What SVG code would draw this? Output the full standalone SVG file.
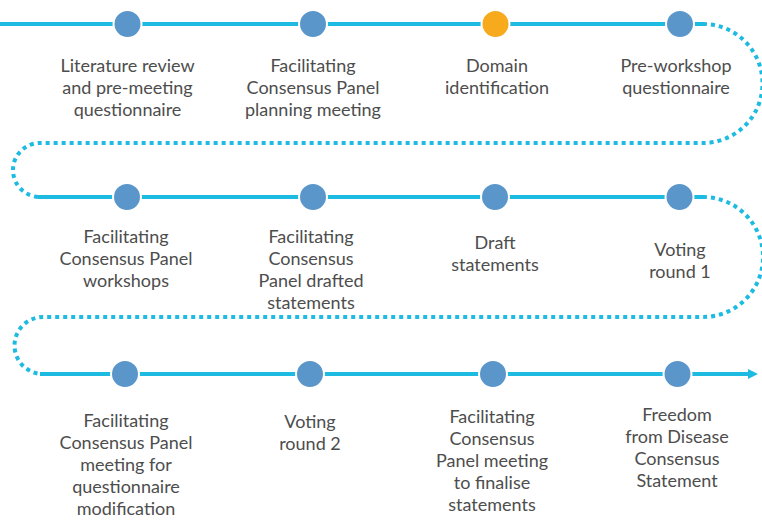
<svg xmlns="http://www.w3.org/2000/svg" width="762" height="520" viewBox="0 0 762 520">
<style>
.ln{fill:none;stroke:#1DBBE1;stroke-width:4}
.dt{fill:none;stroke:#1DBBE1;stroke-width:4;stroke-dasharray:4 4}
.nd{fill:#5B96CB;stroke:#fff;stroke-width:2}
.hl{fill:#F6AA1C;stroke:#fff;stroke-width:2}
text{font-family:Lato,"Open Sans","Liberation Sans",sans-serif;font-size:18px;fill:#4D4D4D;text-anchor:middle}
</style>
<defs>
<marker id="arr" markerWidth="10" markerHeight="10" refX="2" refY="5" orient="auto" markerUnits="userSpaceOnUse">
<path d="M0,0 L10,5 L0,10 Z" fill="#1DBBE1"/>
</marker>
</defs>
<rect width="762" height="520" fill="#fff"/>
<g id="connectors">
<path class="ln" d="M0,24 H703"/>
<path class="dt" d="M703,24 A59.5,59.5 0 0 1 703,143 L40,143 A27,27 0 0 0 40,197"/>
<path class="ln" d="M38,197 H703"/>
<path class="dt" d="M703,197 A60,60 0 0 1 703,317 L43,317 A28.5,28.5 0 0 0 43,374"/>
<path class="ln" d="M40,374 H750" marker-end="url(#arr)"/>
</g>
<g id="n1"><circle class="nd" cx="127.5" cy="24" r="14"/><text x="127.5" y="72">Literature review</text><text x="127.5" y="94">and pre-meeting</text><text x="127.5" y="116">questionnaire</text></g>
<g id="n2"><circle class="nd" cx="313" cy="24" r="14"/><text x="313" y="72">Facilitating</text><text x="313" y="94">Consensus Panel</text><text x="313" y="116">planning meeting</text></g>
<g id="n3"><circle class="hl" cx="495.5" cy="24" r="14"/><text x="497" y="72">Domain</text><text x="497" y="94">identification</text></g>
<g id="n4"><circle class="nd" cx="680" cy="24" r="14"/><text x="676" y="72">Pre-workshop</text><text x="676" y="94">questionnaire</text></g>
<g id="n5"><circle class="nd" cx="127" cy="197" r="14"/><text x="126" y="243">Facilitating</text><text x="126" y="265">Consensus Panel</text><text x="126" y="287">workshops</text></g>
<g id="n6"><circle class="nd" cx="313" cy="197" r="14"/><text x="311" y="243">Facilitating</text><text x="311" y="265">Consensus</text><text x="311" y="287">Panel drafted</text><text x="311" y="309">statements</text></g>
<g id="n7"><circle class="nd" cx="495" cy="197" r="14"/><text x="495" y="249">Draft</text><text x="495" y="271">statements</text></g>
<g id="n8"><circle class="nd" cx="679.5" cy="197" r="14"/><text x="680" y="256">Voting</text><text x="680" y="278">round 1</text></g>
<g id="n9"><circle class="nd" cx="125" cy="374" r="14"/><text x="126" y="427">Facilitating</text><text x="126" y="449">Consensus Panel</text><text x="126" y="471">meeting for</text><text x="126" y="493">questionnaire</text><text x="126" y="515">modification</text></g>
<g id="n10"><circle class="nd" cx="310" cy="374" r="14"/><text x="310" y="428">Voting</text><text x="310" y="450">round 2</text></g>
<g id="n11"><circle class="nd" cx="493" cy="374" r="14"/><text x="492" y="423">Facilitating</text><text x="492" y="445">Consensus</text><text x="492" y="467">Panel meeting</text><text x="492" y="489">to finalise</text><text x="492" y="511">statements</text></g>
<g id="n12"><circle class="nd" cx="677.5" cy="374" r="14"/><text x="677" y="421">Freedom</text><text x="677" y="443">from Disease</text><text x="677" y="465">Consensus</text><text x="677" y="487">Statement</text></g>
</svg>
